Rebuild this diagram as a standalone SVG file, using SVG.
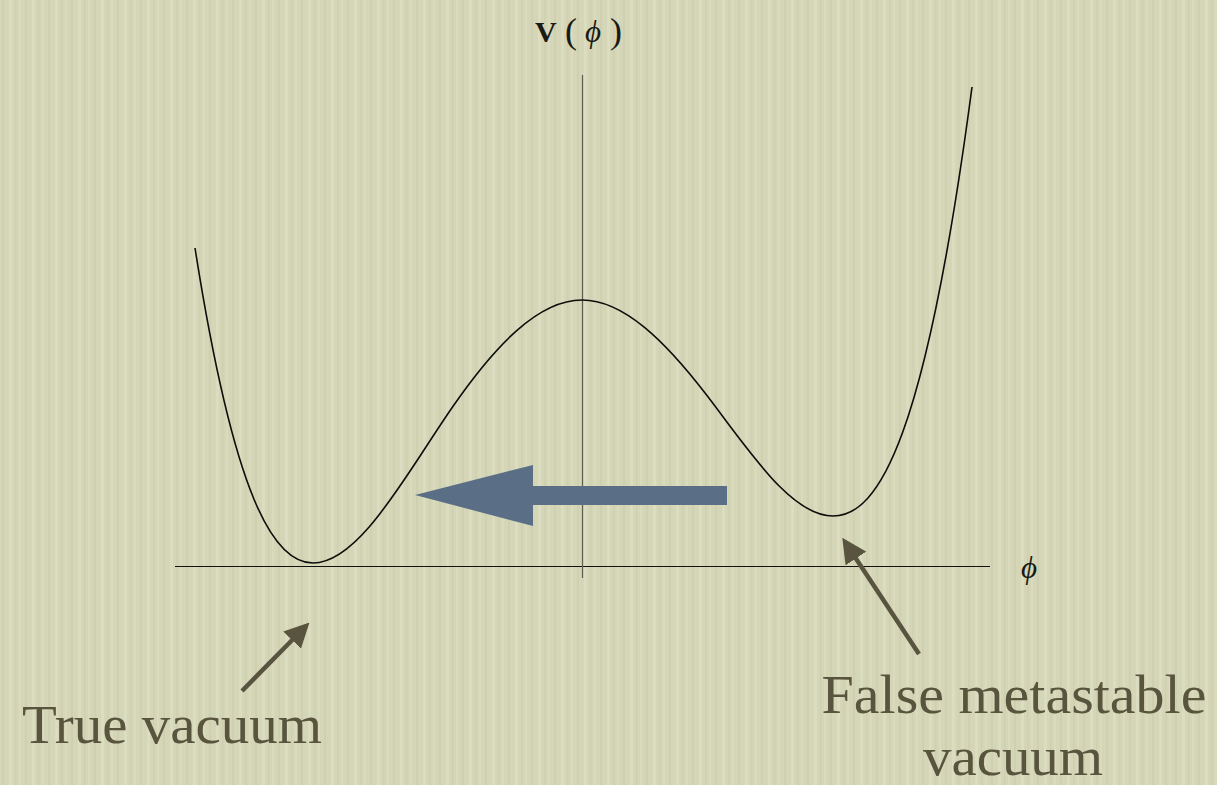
<svg xmlns="http://www.w3.org/2000/svg" width="1217" height="785" viewBox="0 0 1217 785">
  <defs>
    <style>
      .axis { stroke: #111110; stroke-width: 1.1; fill: none; }
      .curve { stroke: #0d0d0a; stroke-width: 1.6; fill: none; }
      .label { font-family: "Liberation Serif", "Times New Roman", serif; fill: #58543e; font-size: 55px; }
      .math { font-family: "Liberation Serif", "Times New Roman", serif; fill: #1a1a14; }
      .pointer { stroke: #58543f; stroke-width: 4.5; fill: none; }
    </style>
    <marker id="darrow" viewBox="0 0 10 10" refX="8" refY="5" markerWidth="5.5" markerHeight="5.5" orient="auto" markerUnits="strokeWidth">
      <path d="M0,0 L10,5 L0,10 Z" fill="#58543f"/>
    </marker>
    <pattern id="tex" width="23" height="785" patternUnits="userSpaceOnUse">
      <rect width="23" height="785" fill="#d5d6b7"/>
      <rect x="2" width="2" height="785" fill="#c9cbab" opacity="0.6"/>
      <rect x="9" width="3" height="785" fill="#e0e1c6" opacity="0.6"/>
      <rect x="15" width="1.5" height="785" fill="#c7c9a8" opacity="0.5"/>
      <rect x="19" width="2" height="785" fill="#dfe0c4" opacity="0.5"/>
    </pattern>
  </defs>
  <rect width="1217" height="785" fill="url(#tex)"/>

  <g id="axes">
    <line class="axis" x1="175" y1="566.5" x2="990" y2="566.5"/>
    <line x1="582.5" y1="75" x2="582.5" y2="578" stroke="#5e5e52" stroke-width="1.2"/>
  </g>

  <g id="potential-curve">
    <path class="curve" d="M195,248 C234.3,498 273.7,563 313,563 C359.3,563 405.7,474.8 452,407.7 C495.3,345 538.7,300 582,300 C623.7,300 665.3,341.2 707,395.6 C749,450.4 791,516 833,516 C879.3,516 925.7,437.1 972,87"/>
  </g>

  <g id="label-V">
    <text x="535" y="42" class="math" font-weight="bold" font-size="30">V</text>
    <text x="565" y="43" class="math" font-size="36">(</text>
    <text x="585" y="42" class="math" font-size="31" font-style="italic">ϕ</text>
    <text x="610" y="43" class="math" font-size="36">)</text>
  </g>

  <g id="label-phi">
    <text x="1021" y="578" class="math" font-size="31" font-style="italic">ϕ</text>
  </g>

  <g id="tunnel-arrow">
    <path d="M727,486 L533,486 L533,465 L415,495 L533,526 L533,505 L727,505 Z" fill="#5a6f86"/>
  </g>

  <g id="label-true">
    <text class="label" x="22" y="743" textLength="300" lengthAdjust="spacingAndGlyphs">True vacuum</text>
  </g>

  <g id="label-false">
    <text class="label" x="1014" y="713" text-anchor="middle" textLength="385" lengthAdjust="spacingAndGlyphs">False metastable</text>
    <text class="label" x="1013" y="775" text-anchor="middle" textLength="180" lengthAdjust="spacingAndGlyphs">vacuum</text>
  </g>

  <g id="connectors">
    <line class="pointer" x1="242" y1="691" x2="306" y2="626" marker-end="url(#darrow)"/>
    <line class="pointer" x1="919" y1="654" x2="845" y2="542" marker-end="url(#darrow)"/>
  </g>
</svg>
